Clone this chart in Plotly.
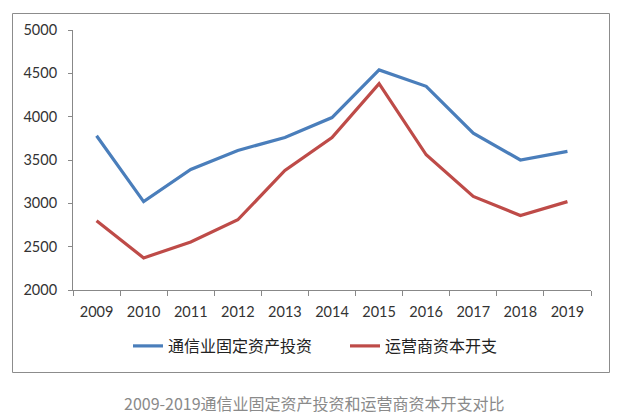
import plotly.graph_objects as go

years = ["2009", "2010", "2011", "2012", "2013", "2014", "2015", "2016", "2017", "2018", "2019"]
telecom_fai = [3780, 3020, 3390, 3610, 3760, 3990, 4540, 4350, 3810, 3500, 3600]
operator_capex = [2800, 2370, 2555, 2810, 3380, 3760, 4380, 3560, 3080, 2860, 3020]
series_names = ["通信业固定资产投资", "运营商资本开支"]
caption = "2009-2019通信业固定资产投资和运营商资本开支对比"

OFF = 8  # page offset of the figure in the screenshot
W, H = 631, 420
L, T = 73 - OFF, 30 - OFF
R = W - (591 - OFF)
B = H - (290 - OFF)
pw, ph = W - L - R, H - T - B

def px(x):
    return (x - OFF - L) / pw

def py(y):
    return (H - B - (y - OFF)) / ph

fig = go.Figure()
fig.add_trace(go.Scatter(x=years, y=telecom_fai, mode="lines", name=series_names[0],
                         line=dict(color="#4A7EBB", width=3.2)))
fig.add_trace(go.Scatter(x=years, y=operator_capex, mode="lines", name=series_names[1],
                         line=dict(color="#BE4B48", width=3.2)))

fig.update_layout(
    width=W, height=H,
    margin=dict(l=L, r=R, t=T, b=B),
    paper_bgcolor="white", plot_bgcolor="white",
    font=dict(family="Lato, 'Noto Sans CJK SC', sans-serif", color="#333333", size=13),
    showlegend=True,
    legend=dict(orientation="h", x=px(128), xanchor="left", y=py(346), yanchor="middle",
                bgcolor="rgba(0,0,0,0)",
                font=dict(family="'Noto Sans CJK SC', sans-serif", size=16, color="#222222"),
                entrywidth=172, entrywidthmode="pixels", itemwidth=30, tracegroupgap=0),
    xaxis=dict(type="category", range=[-0.5, 10.5], showgrid=False, showline=True,
               linecolor="#888888", linewidth=1, ticks="outside", tickson="boundaries",
               ticklen=5, tickcolor="#888888", ticklabelstandoff=9,
               tickfont=dict(size=14.5, color="#333333")),
    yaxis=dict(range=[2000, 5000], dtick=500, showgrid=False, showline=True,
               linecolor="#888888", linewidth=1, ticks="outside", ticklen=4,
               tickcolor="#888888", zeroline=False, ticklabelstandoff=8,
               tickfont=dict(size=14.5, color="#333333")),
    shapes=[dict(type="rect", xref="paper", yref="paper",
                 x0=px(12.5), x1=px(609.5), y0=py(372.5), y1=py(13.5),
                 line=dict(color="#8c8c8c", width=1), fillcolor="rgba(0,0,0,0)", layer="below")],
    annotations=[dict(text=caption, xref="paper", yref="paper", x=px(314), y=py(403),
                      xanchor="center", yanchor="middle", showarrow=False,
                      font=dict(family="'Noto Sans CJK SC', sans-serif", size=16, color="#8a8a8a"))],
)

fig.write_html("out.html")
